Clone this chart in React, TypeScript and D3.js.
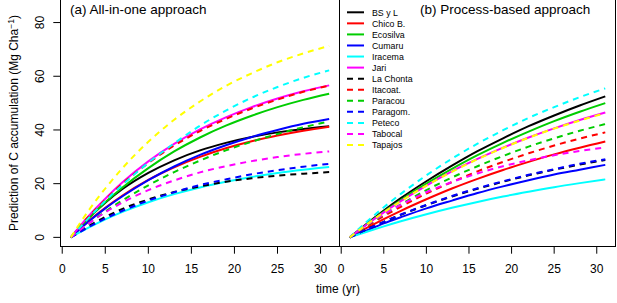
import React from "react";
import * as d3 from "d3";

// ---------- data ----------
const years = [1, 3, 5, 7, 10, 13, 16, 19, 22, 25, 28, 31];
const siteNames = ["BS y L", "Chico B.", "Ecosilva", "Cumaru", "Iracema", "Jari", "La Chonta", "Itacoat.", "Paracou", "Paragom.", "Peteco", "Tabocal", "Tapajos"];
const siteColors = ["#000000", "#FF0000", "#00CD00", "#0000FF", "#00FFFF", "#FF00FF", "#000000", "#FF0000", "#00CD00", "#0000FF", "#00FFFF", "#FF00FF", "#FFFF00"];
const siteDashed = [false, false, false, false, false, false, true, true, true, true, true, true, true];
const xTicks = [0, 5, 10, 15, 20, 25, 30];
const yTicks = [0, 20, 40, 60, 80];

// (a) All-in-one approach
const a_BSyL = [0, 7.0, 12.9, 18.0, 24.0, 28.7, 32.4, 35.2, 37.4, 39.1, 40.4, 41.4];
const a_ChicoB = [0, 5.9, 11.0, 15.6, 21.4, 26.1, 30.0, 33.2, 35.8, 37.9, 39.7, 41.2];
const a_Ecosilva = [0, 6.9, 13.1, 18.6, 25.8, 32.0, 37.2, 41.6, 45.3, 48.5, 51.2, 53.5];
const a_Cumaru = [0, 5.7, 10.8, 15.3, 21.3, 26.4, 30.7, 34.3, 37.4, 40.0, 42.3, 44.1];
const a_Iracema = [0, 3.5, 6.7, 9.5, 13.1, 16.1, 18.6, 20.7, 22.5, 24.0, 25.2, 26.2];
const a_Jari = [0, 7.7, 14.4, 20.5, 28.3, 34.8, 40.2, 44.7, 48.5, 51.7, 54.4, 56.6];
const a_LaChonta = [0, 4.1, 7.6, 10.6, 14.1, 16.9, 19.0, 20.7, 22.0, 23.0, 23.7, 24.3];
const a_Itacoat = [0, 7.5, 14.0, 20.0, 27.7, 34.2, 39.6, 44.1, 48.0, 51.3, 54.2, 56.5];
const a_Paracou = [0, 5.0, 9.6, 13.8, 19.4, 24.3, 28.6, 32.4, 35.6, 38.5, 41.0, 43.2];
const a_Paragom = [0, 3.7, 7.0, 9.9, 13.7, 16.8, 19.5, 21.6, 23.5, 25.0, 26.3, 27.4];
const a_Peteco = [0, 7.0, 13.6, 19.6, 27.8, 35.0, 41.6, 47.2, 52.0, 56.0, 59.4, 62.2];
const a_Tabocal = [0, 5.0, 9.3, 13.0, 17.6, 21.2, 24.2, 26.5, 28.4, 29.9, 31.1, 32.0];
const a_Tapajos = [0, 9.7, 18.2, 25.8, 35.6, 43.8, 50.6, 56.4, 61.1, 65.2, 68.5, 71.3];

// (b) Process-based approach
const b_BSyL = [0, 5.1, 10.0, 14.6, 20.9, 26.7, 32.1, 36.9, 41.4, 45.4, 49.1, 52.5];
const b_ChicoB = [0, 3.5, 6.8, 9.9, 14.2, 18.2, 21.8, 25.1, 28.1, 30.9, 33.4, 35.7];
const b_Ecosilva = [0, 4.9, 9.6, 13.9, 20.0, 25.5, 30.6, 35.2, 39.4, 43.3, 46.8, 50.0];
const b_Cumaru = [0, 2.6, 5.2, 7.5, 10.8, 13.7, 16.5, 19.0, 21.3, 23.4, 25.2, 27.0];
const b_Iracema = [0, 2.1, 4.1, 6.0, 8.6, 11.0, 13.2, 15.2, 17.0, 18.7, 20.2, 21.6];
const b_Jari = [0, 4.8, 9.3, 13.5, 19.3, 24.6, 29.2, 33.4, 37.2, 40.6, 43.7, 46.5];
const b_LaChonta = [0, 3.0, 5.8, 8.4, 12.0, 15.2, 18.1, 20.7, 23.1, 25.2, 27.1, 28.8];
const b_Itacoat = [0, 4.1, 7.9, 11.4, 16.3, 20.6, 24.6, 28.1, 31.3, 34.2, 36.8, 39.1];
const b_Paracou = [0, 4.4, 8.5, 12.3, 17.6, 22.3, 26.5, 30.3, 33.8, 36.9, 39.7, 42.2];
const b_Paragom = [0, 3.0, 5.8, 8.5, 12.1, 15.4, 18.3, 20.9, 23.3, 25.4, 27.4, 29.1];
const b_Peteco = [0, 5.8, 11.2, 16.2, 23.1, 29.3, 34.9, 39.9, 44.5, 48.5, 52.2, 55.5];
const b_Tabocal = [0, 4.6, 8.6, 12.1, 16.8, 20.6, 23.8, 26.5, 28.7, 30.6, 32.2, 33.5];
const b_Tapajos = [0, 4.8, 9.3, 13.5, 19.3, 24.4, 29.1, 33.3, 37.1, 40.5, 43.5, 46.3];

const allInOneSeries = [a_BSyL, a_ChicoB, a_Ecosilva, a_Cumaru, a_Iracema, a_Jari, a_LaChonta, a_Itacoat, a_Paracou, a_Paragom, a_Peteco, a_Tabocal, a_Tapajos];
const processSeries = [b_BSyL, b_ChicoB, b_Ecosilva, b_Cumaru, b_Iracema, b_Jari, b_LaChonta, b_Itacoat, b_Paracou, b_Paragom, b_Peteco, b_Tabocal, b_Tapajos];

// ---------- layout ----------
const W = 617;
const H = 303;
const FONT = "'Liberation Sans', Arial, Helvetica, sans-serif";
const plotTop = -1;
const plotBottom = 246.5;
const y = d3.scaleLinear().domain([-3.4, 88.4]).range([plotBottom, 0]);

function Panel({ x0, x1, series, title, titleX, showYAxis, showLegend }: any) {
  const x = d3.scaleLinear().domain([-0.2, 32.2]).range([x0, x1]);
  const line = d3
    .line<number>()
    .x((_, i) => x(years[i]))
    .y((d) => y(d))
    .curve(d3.curveMonotoneX);
  return (
    <g>
      {series.map((vals: number[], i: number) => (
        <path
          key={i}
          d={line(vals) || ""}
          fill="none"
          stroke={siteColors[i]}
          strokeWidth={2}
          strokeDasharray={siteDashed[i] ? "6,5" : undefined}
        />
      ))}
      <rect x={x0} y={plotTop} width={x1 - x0} height={plotBottom - plotTop} fill="none" stroke="#000" strokeWidth={1} />
      {/* x axis */}
      <line x1={x(0)} x2={x(30)} y1={plotBottom} y2={plotBottom} stroke="#000" />
      {xTicks.map((t) => (
        <g key={t}>
          <line x1={x(t)} x2={x(t)} y1={plotBottom} y2={plotBottom + 7.2} stroke="#000" />
          <text x={x(t)} y={273} textAnchor="middle" fontSize={12} fontFamily={FONT} fill="#000">
            {t}
          </text>
        </g>
      ))}
      {showYAxis &&
        yTicks.map((v) => (
          <g key={v}>
            <line x1={x0} x2={x0 - 7.2} y1={y(v)} y2={y(v)} stroke="#000" />
            <text transform={`translate(44,${y(v)}) rotate(-90)`} textAnchor="middle" fontSize={12} fontFamily={FONT} fill="#000">
              {v}
            </text>
          </g>
        ))}
      <text x={titleX} y={14} fontSize={13.5} fontFamily={FONT} fill="#000">
        {title}
      </text>
      {showLegend &&
        siteNames.map((name, i) => {
          const ly = 12.3 + 11.06 * i;
          return (
            <g key={name}>
              <line
                x1={347}
                x2={364}
                y1={ly}
                y2={ly}
                stroke={siteColors[i]}
                strokeWidth={2}
                strokeDasharray={siteDashed[i] ? "6,5" : undefined}
              />
              <text x={372} y={ly + 3.2} fontSize={8.8} fontFamily={FONT} fill="#000">
                {name}
              </text>
            </g>
          );
        })}
    </g>
  );
}

export default function App() {
  return (
    <div style={{ position: "fixed", left: 0, top: 0, width: W, height: H, background: "#fff" }}>
      <svg width={W} height={H} viewBox={`0 0 ${W} ${H}`} style={{ display: "block" }}>
        <rect x={0} y={0} width={W} height={H} fill="#fff" />
        <Panel x0={60.5} x1={339.5} series={allInOneSeries} title="(a) All-in-one approach" titleX={70} showYAxis={true} showLegend={false} />
        <Panel x0={339.5} x1={615.5} series={processSeries} title="(b) Process-based approach" titleX={420} showYAxis={false} showLegend={true} />
        <text x={(60.5 + 615.5) / 2} y={293} textAnchor="middle" fontSize={12} fontFamily={FONT} fill="#000">
          time (yr)
        </text>
        <text transform={`translate(18,123) rotate(-90)`} textAnchor="middle" fontSize={12} fontFamily={FONT} fill="#000">
          Prediction of C accumulation (Mg Cha
          <tspan dy={-4} fontSize={8.5}>−1</tspan>
          <tspan dy={4}>)</tspan>
        </text>
      </svg>
    </div>
  );
}
